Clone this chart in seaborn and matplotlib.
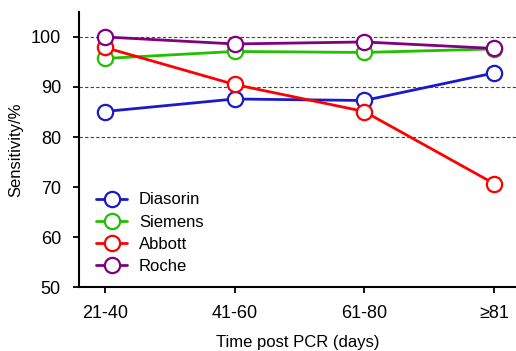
import pandas as pd
import matplotlib
matplotlib.use("Agg")
import matplotlib.pyplot as plt
import seaborn as sns

# Sensitivity by time since PCR
periods = ["21-40", "41-60", "61-80", "≥81"]
diasorin = [85.1, 87.6, 87.3, 92.8]
siemens = [95.7, 97.1, 96.9, 97.6]
abbott = [97.9, 90.5, 85.1, 70.7]
roche = [100.0, 98.6, 99.0, 97.7]

assays = ["Diasorin", "Siemens", "Abbott", "Roche"]
colors = ["#1a1ac8", "#22c000", "#ff0000", "#800080"]

data = pd.DataFrame({
    "period": periods * 4,
    "sensitivity": diasorin + siemens + abbott + roche,
    "assay": [a for a in assays for _ in periods],
})

sns.set_style("ticks")
plt.rcParams["font.family"] = ["Liberation Sans", "DejaVu Sans"]
plt.rcParams["text.color"] = "black"
plt.rcParams["axes.labelcolor"] = "black"
plt.rcParams["xtick.color"] = "black"
plt.rcParams["ytick.color"] = "black"

fig = plt.figure(figsize=(5.16, 3.51), dpi=100)
ax = fig.add_axes([0.153, 0.182, 0.847, 0.784])

# dashed reference lines
for y in [80, 90, 100]:
    ax.axhline(y, color="#444444", linestyle=(0, (3, 2)), linewidth=0.8, zorder=0)

sns.lineplot(data=data, x="period", y="sensitivity", hue="assay",
             palette=colors, hue_order=assays, marker="o", markersize=11,
             linewidth=2.0, legend=False, ax=ax)

for line, c in zip(ax.lines[3:], colors):
    line.set_markerfacecolor("white")
    line.set_markeredgecolor(c)
    line.set_markeredgewidth(1.6)

ax.legend(handles=ax.lines[3:], labels=assays, loc="center left",
          bbox_to_anchor=(0.023, 0.196), borderaxespad=0, frameon=False,
          fontsize=12, handlelength=1.9, handletextpad=0.7, labelspacing=0.43)

ax.set_xlim(-0.2, 3.17)
ax.set_ylim(50, 105)
ax.set_yticks([50, 60, 70, 80, 90, 100])
ax.set_xlabel("Time post PCR (days)", fontsize=12, labelpad=9)
ax.set_ylabel("Sensitivity/%", fontsize=12, labelpad=5)
ax.tick_params(labelsize=13, width=1.3, length=4, color="black", pad=9)
for side in ["top", "right"]:
    ax.spines[side].set_visible(False)
for side in ["left", "bottom"]:
    ax.spines[side].set_linewidth(1.5)
    ax.spines[side].set_color("black")

fig.savefig("out.png", dpi=100)
